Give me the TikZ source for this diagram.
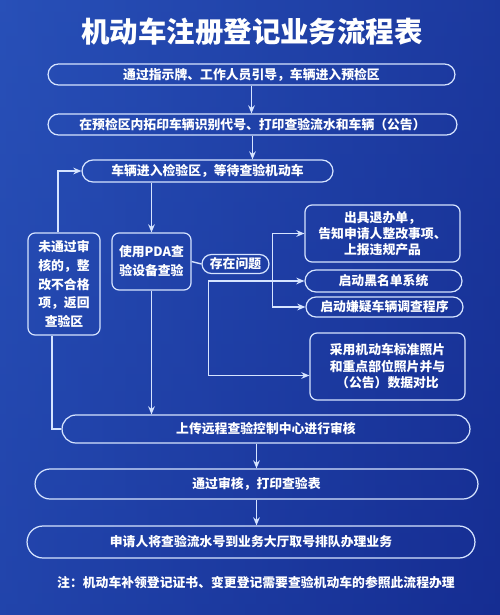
\documentclass[tikz,border=0pt]{standalone}
\usepackage{fontspec}
\setmainfont{Noto Sans CJK SC}
\usetikzlibrary{shapes.misc,arrows.meta}

\definecolor{bgleft}{RGB}{40,80,184}
\definecolor{bgright}{RGB}{18,38,138}
\definecolor{bgmid}{RGB}{26,54,156}
\definecolor{edge}{RGB}{214,228,255}

\begin{document}
\begin{tikzpicture}[x=0.02cm, y=-0.02cm, >={Stealth[length=4.6pt,width=3.8pt]},
  font=\bfseries\fontsize{7.3}{9}\selectfont, text=white,
  pill/.style={rounded rectangle, draw=edge, line width=0.7pt, inner sep=0pt},
  card/.style={rectangle, rounded corners=0.14cm, draw=edge, line width=0.7pt, inner sep=0pt, align=center},
  arr/.style={->, draw=edge, line width=0.8pt},
  link/.style={draw=edge, line width=0.8pt}]
  % fondo azul
  \useasboundingbox (0,0) rectangle (500,615);
  \shade[left color=bgleft, right color=bgright] (0,0) rectangle (500,615);
  \shade[top color=bgleft, middle color=bgmid, bottom color=bgmid, opacity=0.45] (0,0) rectangle (500,615);
  % titulo
  \node[font=\bfseries\fontsize{16.2}{18}\selectfont] (title) at (252,32) {机动车注册登记业务流程表};
  % pasos principales
  \node[pill, minimum width=8.14cm, minimum height=0.42cm] (pre) at (251.5,74.5) {通过指示牌、工作人员引导，车辆进入预检区};
  \node[pill, minimum width=8.18cm, minimum height=0.42cm] (rub) at (252.5,124.5) {在预检区内拓印车辆识别代号、打印查验流水和车辆（公告）};
  \node[pill, minimum width=5.02cm, minimum height=0.44cm] (wait) at (207.5,171) {车辆进入检验区，等待查验机动车};
  \node[card, minimum width=1.44cm, minimum height=2.04cm, font=\bfseries\fontsize{7.3}{10.6}\selectfont] (back) at (64,284) {未通过审\\核的，整\\改不合格\\项，返回\\查验区};
  \node[card, minimum width=1.58cm, minimum height=1.14cm, font=\bfseries\fontsize{7.3}{10.8}\selectfont] (pda) at (151.5,261.5) {使用PDA查\\验设备查验};
  \node[pill, minimum width=1.34cm, minimum height=0.38cm] (issue) at (235.5,264) {存在问题};
  % acciones ante problemas
  \node[card, minimum width=3.1cm, minimum height=1.14cm] (refuse) at (382.5,233.5) {出具退办单，\\告知申请人整改事项、\\上报违规产品};
  \node[pill, minimum width=3.14cm, minimum height=0.44cm] (black) at (383.5,281) {启动黑名单系统};
  \node[pill, minimum width=3.14cm, minimum height=0.40cm] (suspect) at (384.5,307) {启动嫌疑车辆调查程序};
  \node[card, minimum width=3.1cm, minimum height=1.34cm, font=\bfseries\fontsize{7.3}{9.4}\selectfont] (photo) at (387.5,366.5) {采用机动车标准照片\\和重点部位照片并与\\（公告）数据对比};
  % revision y cierre
  \node[pill, minimum width=8.16cm, minimum height=0.56cm] (upload) at (266,429) {上传远程查验控制中心进行审核};
  \node[pill, minimum width=8.86cm, minimum height=0.60cm] (print) at (256.5,484) {通过审核，打印查验表};
  \node[pill, minimum width=8.96cm, minimum height=0.64cm] (queue) at (251,542) {申请人将查验流水号到业务大厅取号排队办理业务};
  \node (note) at (256,583) {注：机动车补领登记证书、变更登记需要查验机动车的参照此流程办理};
  % flechas verticales
  \draw[arr] (pre.south) -- (pre.south |- rub.north);
  \draw[arr] (rub.south) -- (rub.south |- wait.north);
  \draw[arr] (wait.south -| pda.north) -- (pda.north);
  \draw[arr] (pda.south) -- (pda.south |- upload.north);
  \draw[arr] (print.north |- upload.south) -- (print.north);
  \draw[arr] (print.south) -- (print.south |- queue.north);
  % lazo de vuelta
  \draw[arr] ([xshift=-0.12cm]back.north) |- (wait.west);
  \draw[link] ([xshift=-0.24cm]back.south) |- (upload.west);
  % ramas de "存在问题"
  \draw[link] (pda.east) -- (issue.west);
  \draw[arr] ([xshift=0.06cm]issue.east) |- (refuse.west);
  \draw[arr] ([xshift=0.06cm]issue.east) |- (suspect.west);
  \coordinate (split) at ([xshift=0.14cm]issue.west |- black.west);
  \draw[arr] (split) -- (black.west);
  \draw[arr] (split) |- ([yshift=-0.18cm]photo.west);
\end{tikzpicture}
\end{document}
